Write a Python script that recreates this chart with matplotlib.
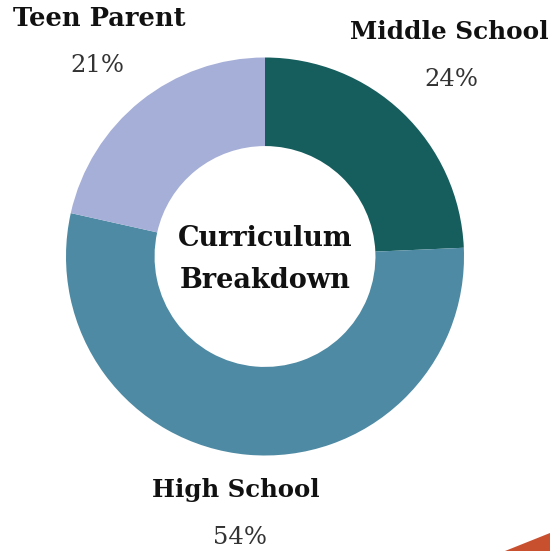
import matplotlib
matplotlib.use("Agg")
import matplotlib.pyplot as plt
from matplotlib.patches import Polygon

categories = ["Middle School", "High School", "Teen Parent"]
values = [24.3, 54.2, 21.5]
pct_labels = ["24%", "54%", "21%"]
colors = ["#165e5e", "#4e8aa3", "#a5afd7"]

W, H = 550, 551
fig = plt.figure(figsize=(W / 100, H / 100), dpi=100)
ax = fig.add_axes([0, 0, 1, 1])

cx, cy, R = 265, 256.5, 199
# pie with inverted y-axis: counterclock=True appears clockwise; start at top => -90 in data
ax.pie(values, colors=colors, startangle=-90, counterclock=True,
       center=(cx, cy), radius=R, frame=True,
       wedgeprops=dict(width=R * 0.445, edgecolor="none"))
ax.set_xlim(0, W)
ax.set_ylim(H, 0)
ax.set_aspect("auto")
ax.axis("off")

fam = "DejaVu Serif"
label_pos = {"Teen Parent": (99, 18, 97, 66),
             "Middle School": (449, 32, 451, 79),
             "High School": (236, 490, 240, 537)}
label_sizes = {"Teen Parent": 18.5, "Middle School": 17.8, "High School": 17.6}
for cat, pl in zip(categories, pct_labels):
    x1, y1, x2, y2 = label_pos[cat]
    ax.text(x1, y1, cat, ha="center", va="center", fontsize=label_sizes[cat],
            fontweight="bold", family=fam, color="#111111")
    ax.text(x2, y2, pl, ha="center", va="center", fontsize=17.5,
            family=fam, color="#333333")

ax.text(265, 238, "Curriculum", ha="center", va="center", fontsize=19.5,
        fontweight="bold", family=fam, color="#111111")
ax.text(265, 281, "Breakdown", ha="center", va="center", fontsize=19.5,
        fontweight="bold", family=fam, color="#111111")

ax.add_patch(Polygon([[505, 551], [550, 533], [550, 551]], closed=True,
                     facecolor="#c9502f", edgecolor="none"))

fig.savefig("out.png", dpi=100)
